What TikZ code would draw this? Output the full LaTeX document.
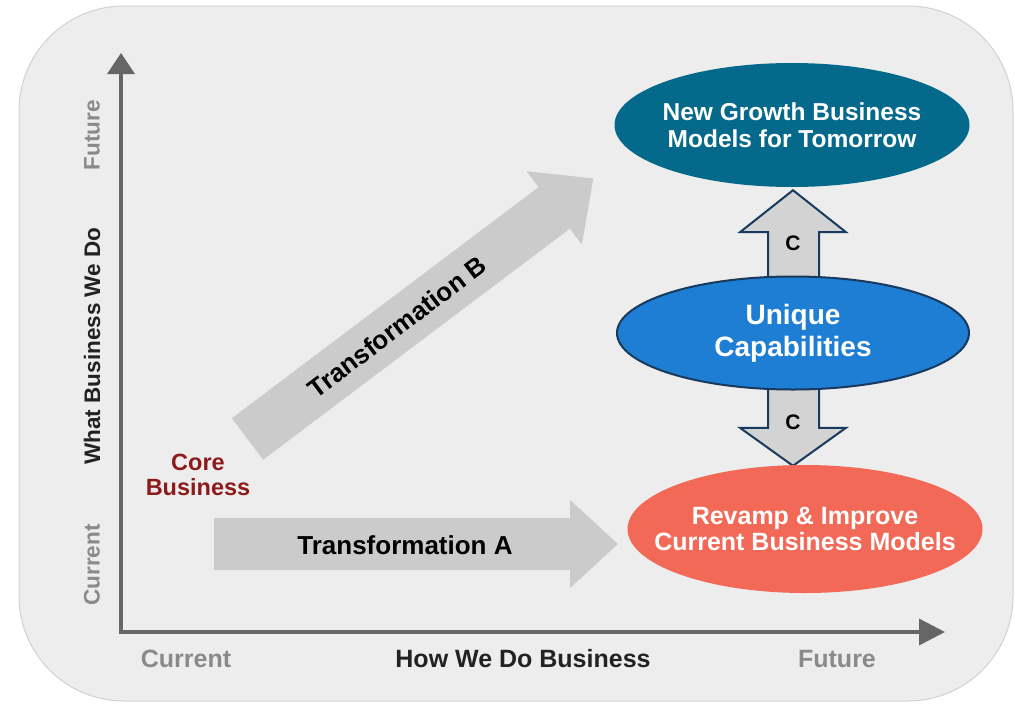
\documentclass[tikz,border=0pt]{standalone}
\usepackage{fontspec}
\setmainfont{Liberation Sans}
\usetikzlibrary{calc,shapes.geometric,arrows.meta,backgrounds}
\definecolor{bgfill}{HTML}{EDEDED}
\definecolor{bgline}{HTML}{D2D2D2}
\definecolor{ngcol}{HTML}{05698B}
\definecolor{uccol}{HTML}{1E7ED3}
\definecolor{navycol}{HTML}{173A5E}
\definecolor{rvcol}{HTML}{F26A57}
\definecolor{axiscol}{HTML}{666666}
\definecolor{lblgray}{HTML}{8A8A8A}
\definecolor{blockgray}{HTML}{CBCBCB}
\definecolor{cgray}{HTML}{D3D3D3}
\definecolor{corered}{HTML}{8E1B1B}
\definecolor{darktext}{HTML}{222222}
\begin{document}
\begin{tikzpicture}[x=1pt,y=-1pt,
  ellbox/.style={ellipse, inner xsep=-60pt, inner ysep=-30pt, align=center, text=white},
  axislbl/.style={font=\fontsize{25}{30}\selectfont\bfseries},
  vlbl/.style={font=\fontsize{22.5}{27}\selectfont\bfseries, rotate=90},
  blockarrow/.style={fill=blockgray, draw=none},
  carrow/.style={fill=cgray, draw=navycol, line width=2pt, line join=miter},
  axisline/.style={draw=axiscol, line width=3.5pt, line join=miter,
     {Triangle[width=27pt,length=21pt]}-{Triangle[width=26pt,length=26pt]}},
  tlbl/.style={font=\fontsize{26}{30}\selectfont\bfseries, text=black},
  clbl/.style={font=\fontsize{21}{24}\selectfont\bfseries, text=black}
]
\useasboundingbox (0,0) rectangle (1015,705);
\begin{scope}[on background layer]
  \fill[white] (0,0) rectangle (1015,705);
  \draw[fill=bgfill, draw=bgline, line width=1pt, rounded corners=105pt]
    (19,6) rectangle (1013,701);
\end{scope}

% axes
\coordinate (origin) at (121,632);
\coordinate (ytip) at (121,53);
\coordinate (xtip) at (945,632);
\draw[axisline] (ytip) -- (origin) -- (xtip);

% axis labels
\node[vlbl, text=lblgray] (yfut) at (92,135) {Future};
\node[vlbl, text=darktext] (ytitle) at (92,346) {What Business We Do};
\node[vlbl, text=lblgray] (ycur) at (92,565) {Current};
\node[axislbl, text=lblgray] (xcur) at (186,659) {Current};
\node[axislbl, text=darktext] (xtitle) at (523,659) {How We Do Business};
\node[axislbl, text=lblgray] (xfut) at (837,659) {Future};

% ellipses
\node[ellbox, fill=ngcol, minimum width=355pt, minimum height=124pt,
      font=\fontsize{24.5}{27}\selectfont\bfseries] (ng) at (792,125)
      {New Growth Business\\Models for Tomorrow};
\node[ellbox, fill=uccol, draw=navycol, line width=2pt, minimum width=352pt, minimum height=113pt,
      font=\fontsize{28}{32}\selectfont\bfseries] (uc) at (793,333)
      {Unique\\Capabilities};
\node[ellbox, fill=rvcol, minimum width=355pt, minimum height=128pt,
      font=\fontsize{25}{26}\selectfont\bfseries] (rv) at (805,529)
      {Revamp \& Improve\\Current Business Models};

% core business
\node[font=\fontsize{23.5}{25}\selectfont\bfseries, text=corered, align=center] (core) at (198,475)
      {Core\\Business};

% transformation labels
\node[tlbl] (ta) at (405,545) {Transformation A};
\node[tlbl, rotate=37] (tb) at (397,327) {Transformation B};

% C arrows
\coordinate (tipU) at ($(uc.north |- ng.south)+(0,3)$);
\coordinate (tipD) at ($(uc.south |- rv.north)+(0,1)$);
\node[clbl] (cu) at ($(tipU)+(0,53)$) {C};
\node[clbl] (cd) at ($(tipD)+(0,-44)$) {C};

\begin{scope}[on background layer]
  % Transformation A
  \fill[blockarrow] (214,518) -- (570,518) -- (570,500) -- (618,544) -- (570,588) -- (570,570) -- (214,570) -- cycle;
  % Transformation B
  \begin{scope}[shift={(247.5,439)}, rotate=37]
    \fill[blockarrow] (0,-26) -- (384,-26) -- (384,-46) -- (433,0) -- (384,46) -- (384,26) -- (0,26) -- cycle;
  \end{scope}
  % up C arrow
  \draw[carrow] ($(tipU)+(-25,88)$) -- ($(tipU)+(-25,42)$) -- ($(tipU)+(-53,42)$) -- (tipU)
     -- ($(tipU)+(53,42)$) -- ($(tipU)+(26,42)$) -- ($(tipU)+(26,88)$);
  % down C arrow
  \draw[carrow] ($(tipD)+(-25,-80)$) -- ($(tipD)+(-25,-38)$) -- ($(tipD)+(-53,-38)$) -- (tipD)
     -- ($(tipD)+(53,-38)$) -- ($(tipD)+(26,-38)$) -- ($(tipD)+(26,-80)$);
\end{scope}
\end{tikzpicture}
\end{document}
